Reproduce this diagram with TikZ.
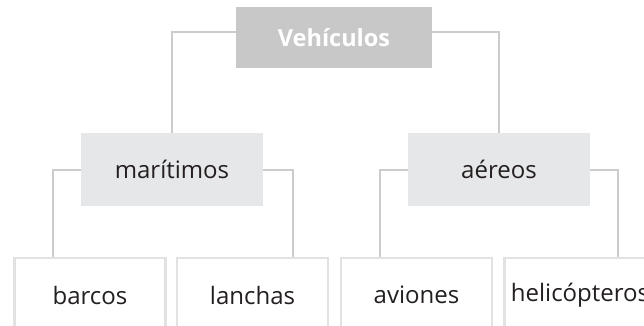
\documentclass[tikz,border=0pt]{standalone}
\usepackage{fontspec}
\setmainfont{Open Sans}[Ligatures=NoCommon]
\usetikzlibrary{positioning,calc}

\definecolor{topgray}{HTML}{C8C8C8}
\definecolor{midgray}{HTML}{E6E7E8}
\definecolor{linegray}{HTML}{CCCCCC}
\definecolor{boxline}{HTML}{E2E2E2}
\definecolor{txtdark}{HTML}{231F20}

\tikzset{
  topbox/.style={fill=topgray, minimum width=196pt, minimum height=61pt, inner sep=0pt,
    text=white, font=\fontsize{23.5}{26}\selectfont\bfseries},
  midbox/.style={fill=midgray, minimum width=182pt, minimum height=73pt, inner sep=0pt,
    text=txtdark, font=\fontsize{24}{27}\selectfont},
  leafbox/.style={draw=boxline, line width=2.5pt, fill=white, minimum width=151pt,
    minimum height=74pt, inner sep=0pt, text=txtdark, font=\fontsize{24}{27}\selectfont},
  link/.style={draw=linegray, line width=2pt}
}

\begin{document}
\begin{tikzpicture}[x=1pt, y=-1pt]
  \useasboundingbox (0,0) rectangle (644,325);
  \clip (0,0) rectangle (644,325);

  \node[topbox] (veh) at (334,37.5) {Vehículos};

  \node[midbox] (mar) at (172,169.5) {marítimos};
  \node[midbox] (aer) at (499,169.5) {aéreos};

  \node[leafbox] (bar) at (90,295) {barcos};
  \node[leafbox] (lan) at (252.5,295) {lanchas};
  \node[leafbox] (avi) at (416.5,295) {aviones};
  \node[leafbox] (hel) at (580,295) {helicópteros};

  % connectors
  \draw[link] ([yshift=5.5pt]veh.west) -| (mar.north);
  \draw[link] ([yshift=5.5pt]veh.east) -| (aer.north);
  \draw[link] (mar.west) -| ([xshift=-37pt]bar.north);
  \draw[link] (mar.east) -| ([xshift=40pt]lan.north);
  \draw[link] (aer.west) -| ([xshift=-37pt]avi.north);
  \draw[link] (aer.east) -| ([xshift=38pt]hel.north);
\end{tikzpicture}
\end{document}
